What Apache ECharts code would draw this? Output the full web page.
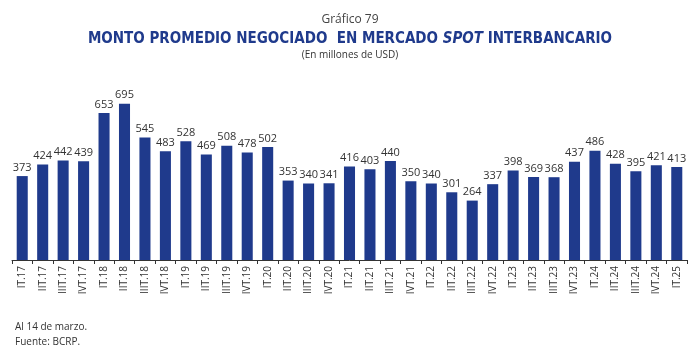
<!DOCTYPE html>
<html>
<head>
<meta charset="utf-8">
<script src="https://cdn.jsdelivr.net/npm/echarts@6/dist/echarts.min.js"></script>
<style>
  html, body { margin: 0; padding: 0; background: #fff; }
  #chart { width: 700px; height: 353px; }
</style>
</head>
<body>
<div id="chart"></div>
<script>
// trimestres (eje X)
const quarters = [
  'IT.17', 'IIT.17', 'IIIT.17', 'IVT.17',
  'IT.18', 'IIT.18', 'IIIT.18', 'IVT.18',
  'IT.19', 'IIT.19', 'IIIT.19', 'IVT.19',
  'IT.20', 'IIT.20', 'IIIT.20', 'IVT.20',
  'IT.21', 'IIT.21', 'IIIT.21', 'IVT.21',
  'IT.22', 'IIT.22', 'IIIT.22', 'IVT.22',
  'IT.23', 'IIT.23', 'IIIT.23', 'IVT.23',
  'IT.24', 'IIT.24', 'IIIT.24', 'IVT.24',
  'IT.25'
];
// monto promedio (millones de USD)
const amounts = [
  373, 424, 442, 439,
  653, 695, 545, 483,
  528, 469, 508, 478,
  502, 353, 340, 341,
  416, 403, 440, 350,
  340, 301, 264, 337,
  398, 369, 368, 437,
  486, 428, 395, 421,
  413
];

const BLUE = '#1f3a8c';
const NARROW = '"Liberation Sans Narrow", "DejaVu Sans Condensed", sans-serif';
const FONT = '"Open Sans", "DejaVu Sans", sans-serif';

const chart = echarts.init(document.getElementById('chart'));
chart.setOption({
  animation: false,
  title: [
    {
      text: 'Gráfico 79',
      left: 'center', top: 9,
      textStyle: { fontFamily: FONT, fontSize: 12, fontWeight: 'normal', color: '#444' }
    },
    {
      text: '{n|MONTO PROMEDIO NEGOCIADO  EN MERCADO }{i|SPOT}{n| INTERBANCARIO}',
      left: 'center', top: 27,
      textStyle: {
        rich: {
          n: { fontFamily: NARROW, fontSize: 15, fontWeight: 'bold', color: BLUE },
          i: { fontFamily: NARROW, fontSize: 15, fontWeight: 'bold', fontStyle: 'italic', color: BLUE }
        }
      }
    },
    {
      text: '(En millones de USD)',
      left: 'center', top: 45,
      textStyle: { fontFamily: FONT, fontSize: 10, fontWeight: 'normal', color: '#333' }
    },
    {
      text: 'Al 14 de marzo.\nFuente: BCRP.',
      left: 10, top: 315,
      textStyle: { fontFamily: FONT, fontSize: 10, fontWeight: 'normal', color: '#333', lineHeight: 15 }
    }
  ],
  grid: { left: 12, right: 13, top: 80, bottom: 93, containLabel: false },
  xAxis: {
    type: 'category',
    data: quarters,
    axisLine: { lineStyle: { color: '#333' } },
    axisTick: { show: true, alignWithLabel: false, length: 4, lineStyle: { color: '#333' } },
    axisLabel: { rotate: 90, interval: 0, fontFamily: FONT, fontSize: 10, color: '#333', margin: 6 }
  },
  yAxis: {
    type: 'value',
    min: 0, max: 800,
    show: false,
    splitLine: { show: false }
  },
  series: [{
    type: 'bar',
    data: amounts,
    barWidth: '54%',
    itemStyle: { color: BLUE },
    label: { show: true, position: 'top', distance: 3, fontFamily: FONT, fontSize: 11, color: '#333' }
  }]
});
</script>
</body>
</html>
